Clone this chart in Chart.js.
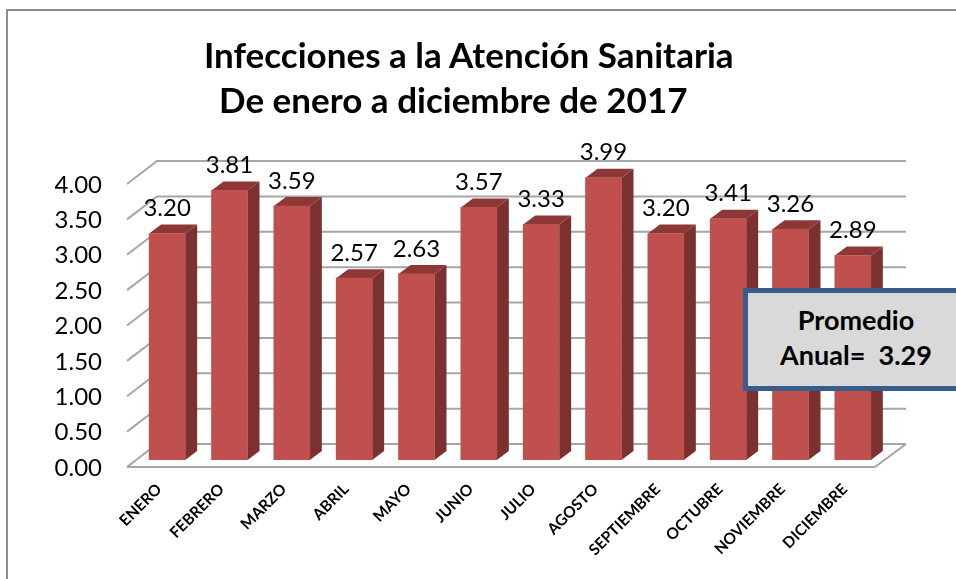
<!DOCTYPE html>
<html>
<head>
<meta charset="utf-8">
<script src="https://cdn.jsdelivr.net/npm/chart.js@4"></script>
<style>
  html, body { margin: 0; padding: 0; background: #fff; overflow: hidden; }
  #wrap { position: relative; width: 956px; height: 579px; font-family: Lato, sans-serif; color: #000; }
  #frame { position: absolute; left: 6px; top: 9px; width: 950px; height: 570px; border-left: 2px solid #8c8c8c; border-top: 2px solid #8c8c8c; box-sizing: border-box; }
  .title { position: absolute; font-weight: bold; font-size: 35px; line-height: 40px; white-space: nowrap; }
  #note { position: absolute; left: 743px; top: 288px; width: 213px; height: 103px; box-sizing: border-box; background: #d9d9d9; border: 5px solid #385d8a; border-right: none; font-weight: bold; font-size: 27px; line-height: 35px; text-align: center; padding-top: 9px; padding-left: 8px; white-space: pre; }
</style>
</head>
<body>
<div id="wrap">
  <canvas id="chart" width="956" height="579"></canvas>
  <div id="frame"></div>
  <div class="title" style="left:204px;top:34px">Infecciones a la Atención Sanitaria</div>
  <div class="title" style="left:219px;top:79px">De enero a diciembre de 2017</div>
  <div id="note">Promedio
Anual=  3.29</div>
</div>
<script>
const months = ['ENERO', 'FEBRERO', 'MARZO', 'ABRIL', 'MAYO', 'JUNIO', 'JULIO', 'AGOSTO', 'SEPTIEMBRE', 'OCTUBRE', 'NOVIEMBRE', 'DICIEMBRE'];
const rates = [3.20, 3.81, 3.59, 2.57, 2.63, 3.57, 3.33, 3.99, 3.20, 3.41, 3.26, 2.89];

const gridColor = '#a6a6a6';
const frontColor = '#c0504d';
const sideColor = '#7b3130';
const topColor = '#8d3836';
const labelFont = '24px Lato, sans-serif';

// fake 3D: walls and floor behind the bars
const wallPlugin = {
  id: 'wall',
  beforeDatasetsDraw(chart) {
    const { ctx, scales } = chart;
    const y = scales.y;
    const left = 127, backLeft = 157, backRight = 906;
    ctx.save();
    ctx.strokeStyle = gridColor;
    ctx.lineWidth = 2;
    y.ticks.forEach(t => {
      const py = y.getPixelForValue(t.value);
      ctx.beginPath();
      ctx.moveTo(left, py + 7);
      ctx.lineTo(backLeft, py - 16);
      ctx.lineTo(backRight, py - 16);
      ctx.stroke();
    });
    // floor
    const base = y.getPixelForValue(0);
    ctx.beginPath();
    ctx.moveTo(left, base + 7);
    ctx.lineTo(875, base + 7);
    ctx.lineTo(backRight, base - 16);
    ctx.stroke();
    // side and top faces of each bar
    chart.getDatasetMeta(0).data.forEach(bar => {
      const p = bar.getProps(['x', 'y', 'base', 'width'], true);
      const r = p.x + p.width / 2;
      const l = p.x - p.width / 2;
      ctx.fillStyle = sideColor;
      ctx.beginPath();
      ctx.moveTo(r, p.y);
      ctx.lineTo(r + 12, p.y - 9);
      ctx.lineTo(r + 12, p.base - 9);
      ctx.lineTo(r, p.base);
      ctx.closePath();
      ctx.fill();
      ctx.fillStyle = topColor;
      ctx.beginPath();
      ctx.moveTo(l, p.y);
      ctx.lineTo(l + 12, p.y - 9);
      ctx.lineTo(r + 12, p.y - 9);
      ctx.lineTo(r, p.y);
      ctx.closePath();
      ctx.fill();
    });
    ctx.restore();
  }
};

const valueLabels = {
  id: 'valueLabels',
  afterDatasetsDraw(chart) {
    const { ctx } = chart;
    ctx.save();
    ctx.font = labelFont;
    ctx.fillStyle = '#000';
    ctx.textAlign = 'center';
    ctx.textBaseline = 'middle';
    chart.getDatasetMeta(0).data.forEach((bar, i) => {
      ctx.fillText(rates[i].toFixed(2), bar.x, bar.y - 25);
    });
    ctx.restore();
  }
};

new Chart(document.getElementById('chart'), {
  type: 'bar',
  data: {
    labels: months,
    datasets: [{ data: rates, backgroundColor: frontColor, barThickness: 36 }]
  },
  plugins: [wallPlugin, valueLabels],
  options: {
    responsive: false,
    animation: false,
    layout: { padding: { top: 177, right: 72, left: 0, bottom: 0 } },
    plugins: { legend: { display: false }, title: { display: false }, tooltip: { enabled: false } },
    scales: {
      x: {
        grid: { display: false, drawTicks: false },
        border: { display: false },
        afterFit(s) { s.height = 119; },
        ticks: {
          autoSkip: false,
          minRotation: 45,
          maxRotation: 45,
          padding: 20,
          labelOffset: -8,
          color: '#000',
          font: { family: 'Lato, sans-serif', size: 15.5, weight: 'bold' }
        }
      },
      y: {
        min: 0,
        max: 4,
        grid: { display: false, drawTicks: false },
        border: { display: false },
        afterFit(s) { s.width = 136; },
        ticks: {
          stepSize: 0.5,
          padding: 34,
          labelOffset: 8,
          color: '#000',
          font: { family: 'Lato, sans-serif', size: 24 },
          callback: v => v.toFixed(2)
        }
      }
    }
  }
});
</script>
</body>
</html>
